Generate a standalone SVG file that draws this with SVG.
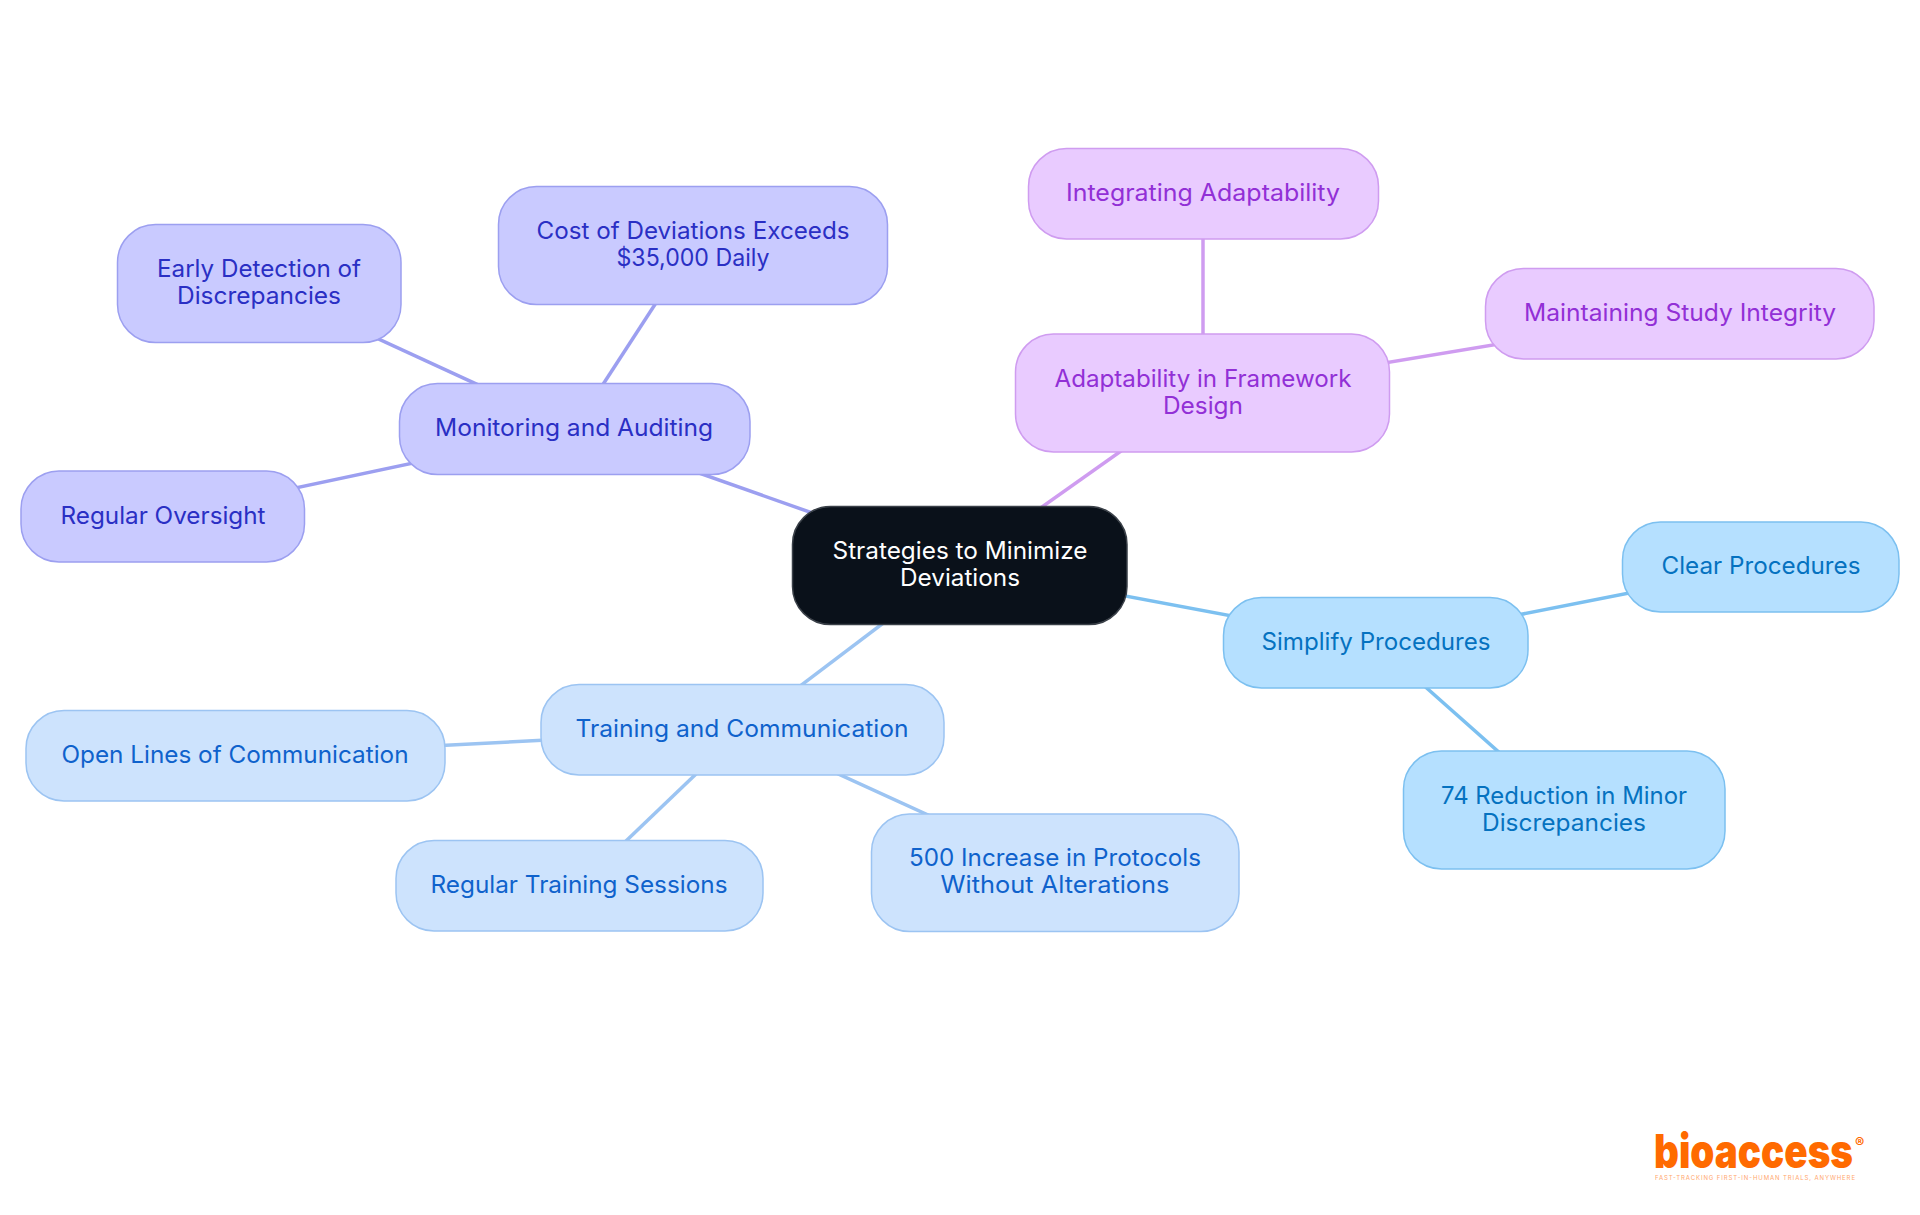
<svg xmlns="http://www.w3.org/2000/svg" width="1920" height="1215" viewBox="0 0 1920 1215">
<style>
text{font-family:"Inter","Noto Sans","Liberation Sans",sans-serif;font-size:24px;text-anchor:middle}
.box{stroke-width:1.5}
.c{fill:none;stroke-width:3.5}
.r rect{fill:#0a111a;stroke:#3a4048}.r text{fill:#fff}
.v rect{fill:#c9caff;stroke:#9c9ff0}.v text{fill:#2a2fc4}
.p rect{fill:#e9cbff;stroke:#cf9cf0}.p text{fill:#9230d6}
.s rect{fill:#b5e0ff;stroke:#7cc0f0}.s text{fill:#0572c0}
.b rect{fill:#cde3fd;stroke:#9cc4f2}.b text{fill:#0f62cc}
.logo{fill:#ff6a00}
</style>
<rect width="1920" height="1215" fill="#fff"/>
<g id="connectors">
<g class="c" style="stroke:#9c9ff0">
<path d="M574 429L960 565"/><path d="M693 246L574 429"/><path d="M259 284L574 429"/><path d="M163 516L574 429"/>
</g>
<g class="c" style="stroke:#cf9cf0">
<path d="M960 565L1203 393"/><path d="M1203 194V393"/><path d="M1203 393L1680 314"/>
</g>
<g class="c" style="stroke:#7cc0f0">
<path d="M960 565L1376 643"/><path d="M1376 643L1761 567"/><path d="M1376 643L1564 810"/>
</g>
<g class="c" style="stroke:#9cc4f2">
<path d="M960 565L742 730"/><path d="M742 730L235 756"/><path d="M742 730L579 886"/><path d="M742 730L1055 873"/>
</g>
</g>
<g id="root" class="r"><rect class="box" x="792.5" y="506.5" width="334.500" height="118" rx="38"/><text x="960" y="559" textLength="255" lengthAdjust="spacingAndGlyphs">Strategies to Minimize</text><text x="960" y="586" textLength="120" lengthAdjust="spacingAndGlyphs">Deviations</text></g>
<g id="monitoring" class="v"><rect class="box" x="399.500" y="383.500" width="350.500" height="91" rx="38"/><text x="574" y="436" textLength="278" lengthAdjust="spacingAndGlyphs">Monitoring and Auditing</text></g>
<g id="cost" class="v"><rect class="box" x="498.500" y="186.500" width="389" height="118" rx="38"/><text x="693" y="239" textLength="313" lengthAdjust="spacingAndGlyphs">Cost of Deviations Exceeds</text><text x="693" y="266" textLength="153" lengthAdjust="spacingAndGlyphs">$35,000 Daily</text></g>
<g id="early" class="v"><rect class="box" x="117.500" y="224.500" width="283.500" height="118" rx="38"/><text x="259" y="277" textLength="204" lengthAdjust="spacingAndGlyphs">Early Detection of</text><text x="259" y="304" textLength="164" lengthAdjust="spacingAndGlyphs">Discrepancies</text></g>
<g id="oversight" class="v"><rect class="box" x="21" y="471" width="283.500" height="91" rx="38"/><text x="163" y="524" textLength="205" lengthAdjust="spacingAndGlyphs">Regular Oversight</text></g>
<g id="adaptability" class="p"><rect class="box" x="1015.500" y="334" width="374" height="118" rx="38"/><text x="1203" y="387" textLength="297" lengthAdjust="spacingAndGlyphs">Adaptability in Framework</text><text x="1203" y="414" textLength="80" lengthAdjust="spacingAndGlyphs">Design</text></g>
<g id="integrating" class="p"><rect class="box" x="1028.500" y="148.500" width="350" height="90.500" rx="38"/><text x="1203" y="201" textLength="274" lengthAdjust="spacingAndGlyphs">Integrating Adaptability</text></g>
<g id="maintaining" class="p"><rect class="box" x="1485.500" y="268.500" width="388.500" height="90.500" rx="38"/><text x="1680" y="321" textLength="312" lengthAdjust="spacingAndGlyphs">Maintaining Study Integrity</text></g>
<g id="simplify" class="s"><rect class="box" x="1223.500" y="597.500" width="304.500" height="90.500" rx="38"/><text x="1376" y="650" textLength="229" lengthAdjust="spacingAndGlyphs">Simplify Procedures</text></g>
<g id="clear" class="s"><rect class="box" x="1622.500" y="522" width="276.500" height="90" rx="38"/><text x="1761" y="574" textLength="199" lengthAdjust="spacingAndGlyphs">Clear Procedures</text></g>
<g id="reduction" class="s"><rect class="box" x="1403.500" y="751" width="321.500" height="118" rx="38"/><text x="1564" y="804" textLength="246" lengthAdjust="spacingAndGlyphs">74 Reduction in Minor</text><text x="1564" y="831" textLength="164" lengthAdjust="spacingAndGlyphs">Discrepancies</text></g>
<g id="training" class="b"><rect class="box" x="541" y="684.500" width="403" height="90.500" rx="38"/><text x="742" y="737" textLength="333" lengthAdjust="spacingAndGlyphs">Training and Communication</text></g>
<g id="open" class="b"><rect class="box" x="26" y="710.500" width="419" height="90.500" rx="38"/><text x="235" y="763" textLength="347" lengthAdjust="spacingAndGlyphs">Open Lines of Communication</text></g>
<g id="sessions" class="b"><rect class="box" x="396" y="840.500" width="367" height="90.500" rx="38"/><text x="579" y="893" textLength="297" lengthAdjust="spacingAndGlyphs">Regular Training Sessions</text></g>
<g id="protocols" class="b"><rect class="box" x="871.500" y="814" width="367.500" height="117.500" rx="38"/><text x="1055" y="866" textLength="292" lengthAdjust="spacingAndGlyphs">500 Increase in Protocols</text><text x="1055" y="893" textLength="229" lengthAdjust="spacingAndGlyphs">Without Alterations</text></g>
<g id="logo">
<text class="logo" x="1654" y="1168" style="font-size:47px;font-weight:900;text-anchor:start" textLength="199" lengthAdjust="spacingAndGlyphs">bioaccess</text>
<text class="logo" x="1855" y="1148" style="font-size:14px;font-weight:700;text-anchor:start">®</text>
<text class="logo" x="1655" y="1180" style="font-size:6px;text-anchor:start;opacity:.6" textLength="200" lengthAdjust="spacing">FAST-TRACKING FIRST-IN-HUMAN TRIALS, ANYWHERE</text>
</g>
</svg>
